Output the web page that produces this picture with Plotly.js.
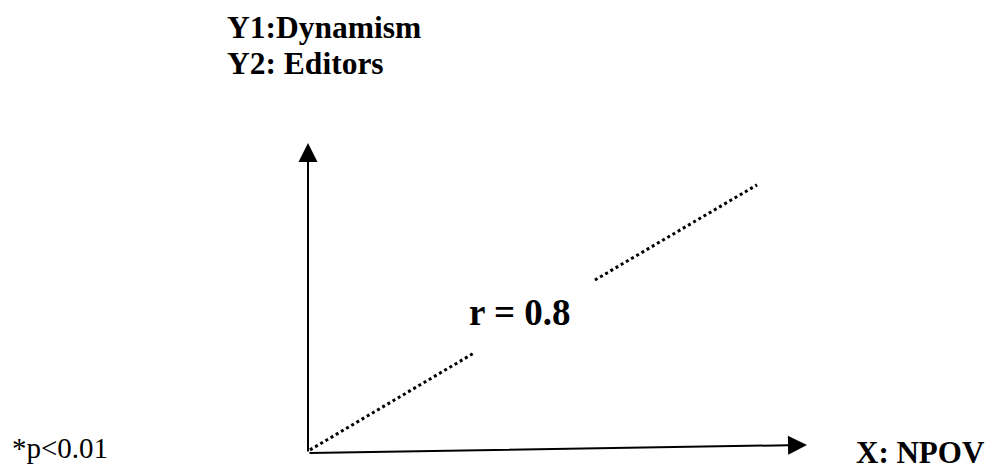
<!DOCTYPE html>
<html>
<head>
<meta charset="utf-8">
<script src="https://cdn.plot.ly/plotly-3.0.1.min.js"></script>
<style>html,body{margin:0;padding:0;background:#fff;}#chart{width:987px;height:471px;}</style>
</head>
<body>
<div id="chart"></div>
<script>
// Schematic axes (arbitrary units: origin at 0,0; arrow tips at 10)
var axisOrigin = [0, 0];
var xAxisTip = [10, 0.26];
var yAxisTip = [0, 10];

// Dotted correlation line (null = gap behind the label)
var corrX = [0.04, 3.3, null, 5.75, 9.0];
var corrY = [0.1, 3.2, null, 5.58, 8.65];

// Text labels
var yLabel1 = 'Y1:Dynamism';
var yLabel2 = 'Y2: Editors';
var xLabel = 'X: NPOV';
var rLabel = 'r = 0.8';
var pLabel = '*p<0.01';

var serif = 'Liberation Serif';

var traces = [{
  x: corrX, y: corrY, type: 'scatter', mode: 'lines',
  line: {color: '#000', width: 3, dash: '3px,3px'},
  connectgaps: false, hoverinfo: 'skip'
}];

function arrow(tip, tail) {
  return {
    x: tip[0], y: tip[1], ax: tail[0], ay: tail[1],
    xref: 'x', yref: 'y', axref: 'x', ayref: 'y',
    text: '', showarrow: true, arrowhead: 2, arrowsize: 1.9,
    arrowwidth: 2, arrowcolor: '#000', standoff: 0, startstandoff: 0
  };
}
function label(txt, x, y, size, bold) {
  return {
    x: x, y: y, xref: 'x', yref: 'y', text: txt,
    showarrow: false, xanchor: 'left', yanchor: 'middle',
    font: {family: serif, size: size, color: '#000', weight: bold ? 'bold' : 'normal'}
  };
}

var layout = {
  width: 987, height: 471,
  margin: {l: 0, r: 0, t: 0, b: 0},
  paper_bgcolor: '#fff', plot_bgcolor: '#fff',
  showlegend: false,
  font: {family: serif},
  xaxis: {range: [-6.172, 13.607], visible: false, fixedrange: true},
  yaxis: {range: [-0.581, 14.613], visible: false, fixedrange: true},
  annotations: [
    arrow(yAxisTip, axisOrigin),
    arrow(xAxisTip, axisOrigin),
    label(yLabel1, -1.66, 13.71, 31.5, true),
    label(yLabel2, -1.66, 12.55, 31.5, true),
    label(xLabel, 10.94, 0.0, 31, true),
    label(rLabel, 3.19, 4.54, 37, true),
    label(pLabel, -5.97, 0.15, 29, false)
  ]
};

Plotly.newPlot('chart', traces, layout, {staticPlot: true, displayModeBar: false});
</script>
</body>
</html>
